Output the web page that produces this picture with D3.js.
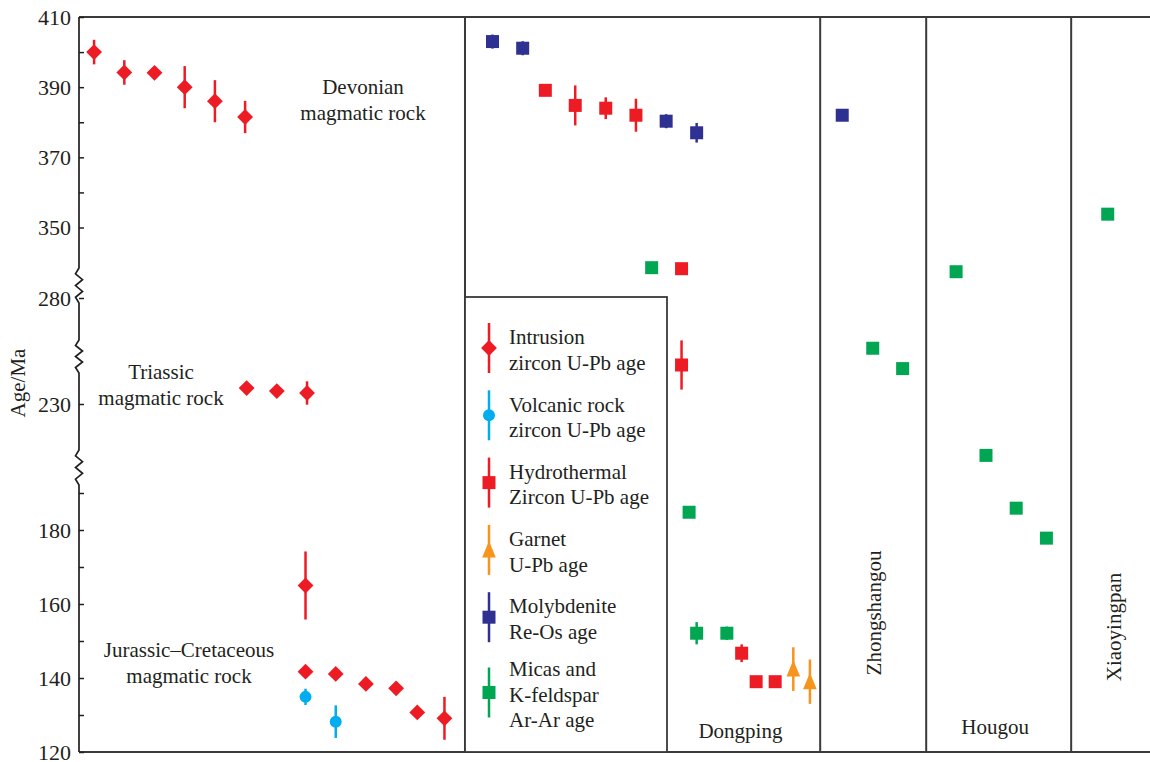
<!DOCTYPE html>
<html>
<head>
<meta charset="utf-8">
<script src="https://cdn.jsdelivr.net/npm/d3@7"></script>
<style>
  html, body { margin: 0; padding: 0; background: #fff; }
  svg { display: block; font-family: "Liberation Serif", "Times New Roman", serif; }
</style>
</head>
<body>
<svg id="chart" width="1150" height="762"></svg>
<script>
// ---- Broken age axis (Ma) ----
const ageStops   = [120, 190, 230, 280, 350, 410];
const tickValues = [120, 130, 140, 150, 160, 170, 180, 190, 230, 280, 350, 360, 370, 380, 390, 400, 410];
const tickLabels = [120, 140, 160, 180, 230, 280, 350, 370, 390, 410];
// age intervals drawn as a zigzag on the axis
const axisBreaks = [[309.8, 277.6], [260.2, 244.6], [209.3, 193.6]];

// ---- Samples: [sample slot, age (Ma), error (Ma)] ----
const intrusionZircon = [
  [0.5, 400.0, 3.5], [1.5, 394.2, 3.5], [2.5, 394.1, 0], [3.5, 390.0, 6.0], [4.5, 386.0, 6.0], [5.5, 381.5, 4.6],
  [5.55, 237.5, 0], [6.55, 236.1, 0], [7.55, 235.2, 5.5],
  [7.5, 165.0, 9.2], [7.5, 141.7, 0], [8.5, 141.1, 0], [9.5, 138.4, 0], [10.5, 137.2, 0], [11.2, 130.7, 0], [12.1, 129.1, 5.8]
];
const volcanicZircon = [
  [7.5, 134.9, 2.2], [8.5, 128.2, 4.4]
];
const hydrothermalZircon = [
  [15.44, 389.1, 0], [16.43, 384.8, 5.7], [17.44, 384.0, 3.1], [18.44, 382.0, 4.7],
  [19.95, 309.1, 0], [19.95, 248.4, 11.6],
  [21.94, 146.7, 2.4], [22.42, 139.0, 0], [23.05, 139.0, 0]
];
const garnetUPb = [
  [23.65, 142.4, 5.9], [24.2, 139.0, 6.0]
];
const molybdeniteReOs = [
  [13.69, 403.0, 2.0], [14.69, 401.1, 2.0], [19.44, 380.3, 2.0], [20.45, 377.0, 2.8],
  [25.27, 382.0, 1.5]
];
const micaArAr = [
  [18.96, 310.1, 0], [20.2, 184.8, 0], [20.45, 152.1, 3.0], [21.45, 152.1, 1.8],
  [26.28, 256.3, 0], [27.27, 246.7, 0],
  [29.04, 306.1, 0], [30.03, 206.9, 0], [31.03, 185.9, 0], [32.03, 177.8, 0],
  [34.06, 353.8, 0]
];

// ---- Deposit panels (in sample slots) ----
const panelEdges = [12.78, 24.54, 28.05, 32.85];
const panelNames = ["Dongping", "Zhongshangou", "Hougou", "Xiaoyingpan"];

const rockGroups = [
  { lines: ["Devonian", "magmatic rock"] },
  { lines: ["Triassic", "magmatic rock"] },
  { lines: ["Jurassic\u2013Cretaceous", "magmatic rock"] }
];

const legendItems = [
  { lines: ["Intrusion", "zircon U-Pb age"], kind: "diamond", color: "#ED1C24" },
  { lines: ["Volcanic rock", "zircon U-Pb age"], kind: "circle", color: "#00AEEF" },
  { lines: ["Hydrothermal", "Zircon U-Pb age"], kind: "square", color: "#ED1C24" },
  { lines: ["Garnet", "U-Pb age"], kind: "triangle", color: "#F7941D" },
  { lines: ["Molybdenite", "Re-Os age"], kind: "square", color: "#2E3192" },
  { lines: ["Micas and", "K-feldspar", "Ar-Ar age"], kind: "square", color: "#00A651" }
];

const series = [
  { data: intrusionZircon,    kind: "diamond",  color: "#ED1C24" },
  { data: hydrothermalZircon, kind: "square",   color: "#ED1C24" },
  { data: molybdeniteReOs,    kind: "square",   color: "#2E3192" },
  { data: micaArAr,           kind: "square",   color: "#00A651" },
  { data: garnetUPb,          kind: "triangle", color: "#F7941D" },
  { data: volcanicZircon,     kind: "circle",   color: "#00AEEF" }
];

// ---- Layout ----
const svg = d3.select("#chart");
const plotL = 79, plotR = 1150, plotT = 17, plotB = 752;
const textColor = "#231F20";
const fontSize = 21;

const x = d3.scaleLinear().domain([0, 35.46]).range([plotL, plotR]);
const y = d3.scaleLinear().domain(ageStops).range([plotB, 493, 404, 298, 227.5, plotT]);

// marker shapes
const symbolPath = {
  diamond:  d3.symbol().type(d3.symbolSquare).size(125)(),
  square:   d3.symbol().type(d3.symbolSquare).size(169)(),
  circle:   d3.symbol().type(d3.symbolCircle).size(113)(),
  triangle: "M0,-9L6.8,7.5L-6.8,7.5Z"
};
function drawMarker(g, kind, color) {
  g.append("path")
    .attr("d", symbolPath[kind])
    .attr("transform", kind === "diamond" ? "rotate(45)" : null)
    .attr("fill", color);
}

// ---- Frame and panel dividers ----
const frame = svg.append("g").attr("stroke", "#3a3a3a").attr("stroke-width", 2).attr("fill", "none");
frame.append("line").attr("x1", plotL).attr("x2", plotR).attr("y1", plotT).attr("y2", plotT);
frame.append("line").attr("x1", plotL).attr("x2", plotR).attr("y1", plotB).attr("y2", plotB);
frame.selectAll("line.divider").data(panelEdges).join("line")
  .attr("class", "divider")
  .attr("x1", d => x(d)).attr("x2", d => x(d))
  .attr("y1", plotT).attr("y2", plotB);

// ---- Broken y axis line ----
const axisPts = [[plotL, y(ageStops[ageStops.length - 1])]];
axisBreaks.forEach(([hi, lo]) => {
  const ya = y(hi), yb = y(lo), n = 5, step = (yb - ya) / (n + 1);
  axisPts.push([plotL, ya]);
  for (let k = 1; k <= n; k++) axisPts.push([plotL + (k % 2 ? -3.5 : 3.5), ya + k * step]);
  axisPts.push([plotL, yb]);
});
axisPts.push([plotL, y(ageStops[0])]);
svg.append("path")
  .attr("d", d3.line()(axisPts))
  .attr("fill", "none").attr("stroke", textColor).attr("stroke-width", 1.7);

const yAxis = d3.axisLeft(y)
  .tickValues(tickValues)
  .tickSizeInner(-5).tickSizeOuter(0)
  .tickPadding(8)
  .tickFormat(d => tickLabels.includes(d) ? d : "");
const axisG = svg.append("g").attr("transform", `translate(${plotL},0)`).call(yAxis);
axisG.select(".domain").remove();
axisG.selectAll(".tick line").attr("stroke", textColor).attr("stroke-width", 1.5);
axisG.selectAll(".tick text")
  .attr("fill", textColor)
  .style("font-family", '"Liberation Serif", "Times New Roman", serif')
  .style("font-size", "22px");

svg.append("text")
  .attr("transform", "translate(25,383) rotate(-90)")
  .attr("text-anchor", "middle")
  .attr("fill", textColor).style("font-size", fontSize + "px")
  .text("Age/Ma");

// ---- Rock group annotations ----
const groupPos = [[363, 94], [161, 379], [189, 657]];
rockGroups.forEach((grp, i) => {
  const t = svg.append("text").attr("text-anchor", "middle")
    .attr("fill", textColor).style("font-size", fontSize + "px");
  grp.lines.forEach((ln, k) => {
    t.append("tspan").attr("x", groupPos[i][0]).attr("y", groupPos[i][1] + k * 26).text(ln);
  });
});

// ---- Panel names ----
const nameStyle = sel => sel.attr("fill", textColor).style("font-size", fontSize + "px").attr("text-anchor", "middle");
svg.append("text").call(nameStyle).attr("x", x(21.9)).attr("y", 738).text(panelNames[0]);
svg.append("text").call(nameStyle).attr("transform", `translate(${x(26.55)},613) rotate(-90)`).text(panelNames[1]);
svg.append("text").call(nameStyle).attr("x", x(30.33)).attr("y", 734).text(panelNames[2]);
svg.append("text").call(nameStyle).attr("transform", `translate(${x(34.5)},627) rotate(-90)`).text(panelNames[3]);

// ---- Data: error bars then markers ----
series.forEach(s => {
  const g = svg.append("g");
  g.selectAll("line").data(s.data.filter(d => d[2] > 0)).join("line")
    .attr("x1", d => x(d[0])).attr("x2", d => x(d[0]))
    .attr("y1", d => y(d[1] + d[2])).attr("y2", d => y(d[1] - d[2]))
    .attr("stroke", s.color).attr("stroke-width", 2.5);
  g.selectAll("g.pt").data(s.data).join("g")
    .attr("class", "pt")
    .attr("transform", d => `translate(${x(d[0])},${y(d[1])})`)
    .each(function () { drawMarker(d3.select(this), s.kind, s.color); });
});

// ---- Legend ----
const lgX = 465, lgY = 297, lgW = 202, lgH = plotB - lgY;
const legend = svg.append("g");
legend.append("rect")
  .attr("x", lgX).attr("y", lgY).attr("width", lgW).attr("height", lgH)
  .attr("fill", "#fff").attr("stroke", "#3a3a3a").attr("stroke-width", 1.8);
legendItems.forEach((item, i) => {
  const cy = 348 + i * 67.3 + (item.lines.length - 2) * 8;
  const g = legend.append("g").attr("transform", `translate(${lgX + 24},${cy})`);
  g.append("line").attr("x1", 0).attr("x2", 0).attr("y1", -25).attr("y2", 25)
    .attr("stroke", item.color).attr("stroke-width", 2.5);
  drawMarker(g, item.kind, item.color);
  const t = legend.append("text").attr("fill", textColor).style("font-size", fontSize + "px");
  const n = item.lines.length;
  item.lines.forEach((ln, k) => {
    t.append("tspan").attr("x", lgX + 44).attr("y", cy + 9 + (k - (n - 1) / 2) * 25.5).text(ln);
  });
});
</script>
</body>
</html>
